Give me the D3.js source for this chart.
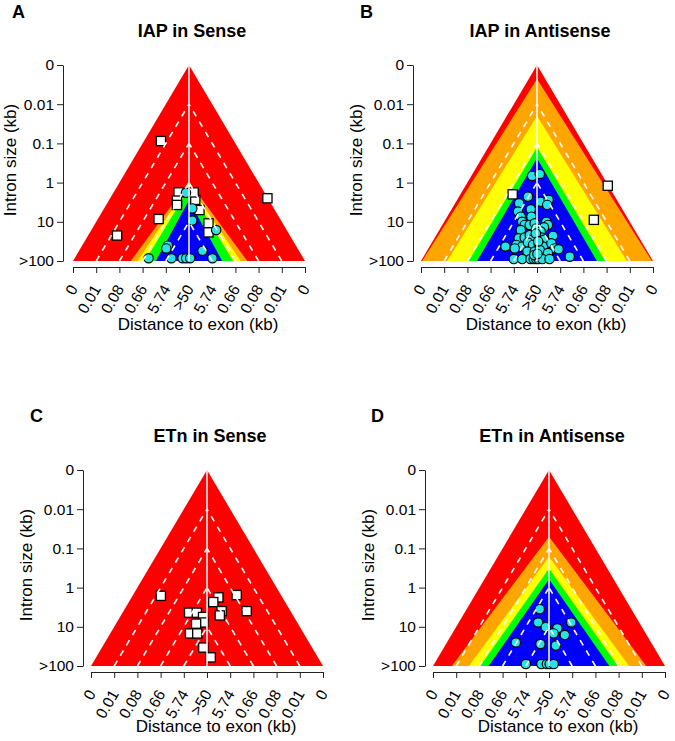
<!DOCTYPE html>
<html><head><meta charset="utf-8">
<script src="https://cdn.jsdelivr.net/npm/d3@7"></script>
<style>
body{margin:0;background:#fff}
svg{display:block;font-family:"Liberation Sans",Arial,Helvetica,sans-serif}
</style>
</head><body>
<svg id="c" width="675" height="741"></svg>
<script>
// ---------- data ----------
const xTickLabels = ["0","0.01","0.08","0.66","5.74",">50","5.74","0.66","0.08","0.01","0"];
const yTickLabels = ["0","0.01","0.1","1","10",">100"];
const panelLetters = ["A","B","C","D"];
const panelTitles = ["IAP in Sense","IAP in Antisense","ETn in Sense","ETn in Antisense"];
const xAxisTitle = "Distance to exon (kb)";
const yAxisTitle = "Intron size (kb)";
const bandColors = ["#ff0000","#ffa500","#ffff00","#00ff00","#0000ff"];

// bands: [apex position on intron-size axis (0..5), base half-width on distance axis (0..5)]
const bandsA = [[0,5],[2.98,2.51],[3.05,2.22],[3.15,1.90],[3.45,1.43]];
const bandsB = [[0,5],[0.36,4.95],[1.30,3.87],[2.10,2.94],[2.38,2.58]];
const bandsC = [[0,5]];
const bandsD = [[0,5],[1.70,4.19],[2.21,3.45],[2.51,2.97],[2.79,2.60]];

// points: [distance axis position (-5..5, 0 = >50), intron-size axis position (0..5)]
const squaresA = [[-1.21,1.94],[-0.45,3.25],[-0.52,3.46],[-0.52,3.57],[0.27,3.44],[0.45,3.70],
  [-1.31,3.93],[-3.10,4.35],[0.84,4.04],[0.84,4.27],[3.38,3.40],[0.20,3.25]];
const circlesA = [[-0.13,3.26],[0.14,3.66],[0.14,3.97],[1.17,4.21],[-0.91,4.61],[-0.98,4.68],
  [0.58,4.74],[-1.74,4.93],[-0.76,4.93],[-0.28,4.93],[-0.12,4.93],[0.05,4.93],[1.01,4.93]];

const squaresB = [[-1.05,3.30],[3.05,3.08],[2.45,3.95]];
const circlesB = [[-0.21,2.83],[0.12,2.78],[-0.39,3.36],[-0.77,3.53],[0.15,3.49],[0.50,3.44],
  [0.44,3.57],[-0.82,3.74],[-0.70,3.87],[-0.27,3.68],[-0.24,3.87],[-0.64,4.00],[-0.53,4.08],
  [-0.70,4.21],[-0.31,4.08],[-0.10,4.04],[-0.03,4.17],[0.40,4.00],[0.47,4.08],[0.30,4.14],
  [0.16,4.25],[-0.79,4.42],[-0.53,4.40],[-0.31,4.34],[-0.24,4.46],[0.19,4.40],[0.30,4.46],
  [0.69,4.36],[-0.89,4.59],[-0.64,4.63],[-0.39,4.53],[-0.17,4.59],[0.07,4.55],[0.26,4.63],
  [0.62,4.55],[0.76,4.68],[0.93,4.70],[-1.36,4.63],[-0.96,4.68],[-0.41,4.76],[-0.10,4.76],
  [0.12,4.72],[0.47,4.80],[1.41,4.89],[-1.00,4.95],[-0.64,4.95],[-0.28,4.95],[-0.14,4.95],
  [-0.03,4.95],[0.07,4.95],[0.23,4.95],[0.54,4.95],[-0.05,4.30],[0.05,4.50],[-0.12,4.85],[0.02,4.82]];

const squaresC = [[-1.99,3.21],[0.49,3.25],[0.27,3.37],[1.28,3.19],[1.71,3.60],[0.63,3.60],
  [0.55,3.71],[-0.77,3.64],[-0.44,3.64],[-0.17,3.75],[-0.16,3.89],[-0.47,3.92],[-0.73,4.17],
  [-0.42,4.17],[-0.16,4.53],[0.16,4.78]];
const circlesC = [];

const squaresD = [];
const circlesD = [[-0.40,3.55],[-0.47,3.89],[-0.14,4.01],[0.96,3.89],[0.36,4.04],[0.20,4.17],
  [0.68,4.21],[-1.43,4.40],[-0.37,4.44],[0.29,4.48],[-1.00,4.95],[-0.33,4.95],[-0.09,4.95],
  [0.03,4.95],[0.20,4.95]];

const allBands = [bandsA,bandsB,bandsC,bandsD];
const allSquares = [squaresA,squaresB,squaresC,squaresD];
const allCircles = [circlesA,circlesB,circlesC,circlesD];

// ---------- layout (pixels) ----------
const layout = [
  {xr:[73,305], yr:[65,261], axY:267, axX:63,  letX:12,  letY:18,  titY:37,  ylabX:16,  xlabY:330},
  {xr:[421,653],yr:[65,261], axY:267, axX:413, letX:360, letY:18,  titY:37,  ylabX:362, xlabY:330},
  {xr:[91,323], yr:[470,666],axY:672, axX:83,  letX:30,  letY:422, titY:442, ylabX:32,  xlabY:732},
  {xr:[433,665],yr:[470,666],axY:672, axX:425, letX:371, letY:422, titY:442, ylabX:374, xlabY:732}
];

const svg = d3.select("#c");

layout.forEach((L, pi) => {
  const g = svg.append("g");
  const x = d3.scaleLinear().domain([-5,5]).range(L.xr);
  const y = d3.scaleLinear().domain([0,5]).range(L.yr);
  const cx = x(0);

  // colour bands (nested triangles)
  allBands[pi].forEach((b, i) => {
    const [apex, half] = b;
    g.append("path")
      .attr("d", d3.line()([[x(-half), y(5)], [x(0), y(apex)], [x(half), y(5)]]) + "Z")
      .attr("fill", bandColors[i]);
  });

  // points
  g.selectAll("rect.sq").data(allSquares[pi]).join("rect")
    .attr("x", d => x(d[0]) - 4.6).attr("y", d => y(d[1]) - 4.6)
    .attr("width", 9.2).attr("height", 9.2)
    .attr("fill", "#ffffff").attr("stroke", "#000").attr("stroke-width", 1.3);
  g.selectAll("circle.ci").data(allCircles[pi]).join("circle")
    .attr("cx", d => x(d[0])).attr("cy", d => y(d[1])).attr("r", 4.7)
    .attr("fill", "#27e3e6").attr("stroke", "#000").attr("stroke-width", 1.2);

  // dashed guide lines
  [1,2,3,4].forEach(k => {
    [-1,1].forEach(s => {
      g.append("line")
        .attr("x1", x(s*(5-k))).attr("y1", y(5))
        .attr("x2", x(0)).attr("y2", y(k))
        .attr("stroke", "#fff").attr("stroke-width", 1.6)
        .attr("stroke-dasharray", "6,6");
    });
  });
  // centre line
  g.append("line").attr("x1", cx).attr("x2", cx).attr("y1", y(0)).attr("y2", y(5))
    .attr("stroke", "#fff").attr("stroke-width", 1.5);

  // y axis
  const ya = g.append("g").attr("transform", `translate(${L.axX},0)`)
    .call(d3.axisLeft(y).tickValues(d3.range(6)).tickFormat(i => yTickLabels[i])
      .tickSize(6).tickSizeOuter(0).tickPadding(3));
  ya.attr("font-family", null).attr("font-size", null);
  ya.selectAll("text").attr("font-size", 15.5).attr("fill", "#000");
  ya.selectAll("line,path").attr("stroke", "#222");

  // x axis
  const xa = g.append("g").attr("transform", `translate(0,${L.axY})`)
    .call(d3.axisBottom(x).tickValues(d3.range(-5,6)).tickFormat(i => xTickLabels[i+5])
      .tickSize(6).tickSizeOuter(0));
  xa.attr("font-family", null).attr("font-size", null);
  xa.selectAll("line,path").attr("stroke", "#222");
  xa.selectAll("text").attr("font-size", 15.5).attr("fill", "#000")
    .attr("x", 0).attr("y", 0).attr("dy", "0.35em")
    .attr("text-anchor", "end")
    .attr("transform", "translate(0,19) rotate(-60)");

  // titles
  g.append("text").attr("x", L.letX).attr("y", L.letY).text(panelLetters[pi])
    .attr("font-weight", "bold").attr("font-size", 18);
  g.append("text").attr("x", cx + 3).attr("y", L.titY).text(panelTitles[pi])
    .attr("font-weight", "bold").attr("font-size", 18).attr("text-anchor", "middle");
  g.append("text").attr("x", cx + 9).attr("y", L.xlabY).text(xAxisTitle)
    .attr("font-size", 17).attr("text-anchor", "middle");
  const ym = (L.yr[0] + L.yr[1]) / 2 - 3;
  g.append("text").attr("transform", `translate(${L.ylabX},${ym}) rotate(-90)`)
    .text(yAxisTitle).attr("font-size", 17).attr("text-anchor", "middle");
});
</script>
</body></html>
